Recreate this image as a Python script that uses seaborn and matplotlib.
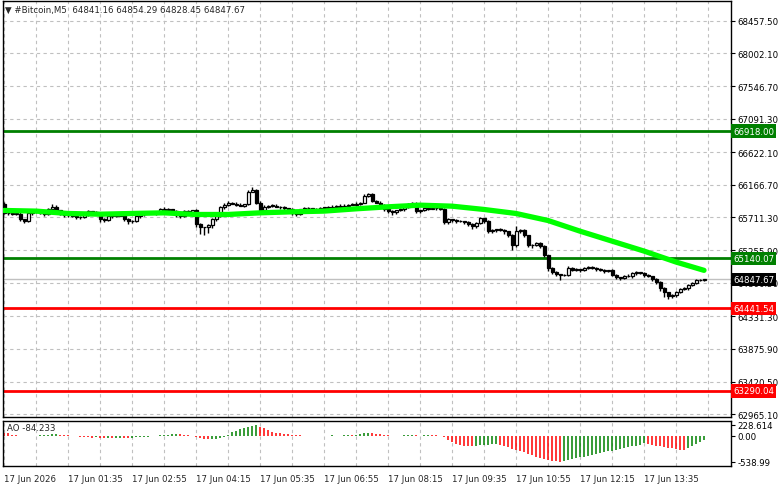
import matplotlib
matplotlib.use("Agg")
import matplotlib.pyplot as plt
import matplotlib.transforms as mtransforms
import numpy as np
import pandas as pd
import seaborn as sns

# --- data (#Bitcoin, M5) ---
first_open = 65906.0
closes = [
    65767, 65770, 65760, 65765, 65683, 65660, 65767, 65795, 65809, 65770, 65753, 65823, 65864, 65809, 65753, 65739,
    65742, 65725, 65711, 65715, 65753, 65795, 65790, 65753, 65683, 65669, 65725, 65739, 65735, 65742, 65683, 65655,
    65660, 65725, 65753, 65767, 65770, 65781, 65767, 65823, 65820, 65826, 65795, 65739, 65725, 65795, 65790, 65809,
    65614, 65572, 65575, 65600, 65683, 65725, 65851, 65892, 65920, 65906, 65892, 65878, 65895, 66073, 66101, 65920,
    65809, 65864, 65878, 65875, 65864, 65851, 65837, 65823, 65767, 65753, 65823, 65837, 65840, 65823, 65826, 65837,
    65851, 65848, 65864, 65878, 65864, 65878, 65892, 65889, 65906, 65920, 66018, 66032, 65948, 65920, 65892, 65823,
    65795, 65781, 65809, 65823, 65864, 65906, 65903, 65795, 65809, 65837, 65834, 65840, 65837, 65834, 65641, 65683,
    65669, 65655, 65658, 65641, 65614, 65586, 65628, 65697, 65655, 65516, 65530, 65544, 65530, 65516, 65461, 65321,
    65516, 65530, 65461, 65321, 65325, 65349, 65307, 65182, 65001, 64945, 64918, 64904, 64907, 65001, 64973, 64987,
    64973, 65001, 65015, 65012, 64987, 64973, 64959, 64973, 64904, 64876, 64862, 64890, 64887, 64931, 64945, 64931,
    64904, 64890, 64848, 64806, 64722, 64666, 64611, 64625, 64666, 64708, 64722, 64764, 64792, 64834, 64841.16, 64847.67,
]
upper_wick = [
    20, 10, 15, 10, 20, 10, 15, 15, 10, 20, 10, 25, 30, 15, 10, 15,
    10, 15, 10, 20, 15, 20, 10, 15, 10, 15, 20, 10, 15, 30, 10, 15,
    10, 20, 15, 10, 25, 15, 10, 20, 30, 15, 10, 15, 10, 20, 15, 10,
    15, 20, 10, 15, 20, 25, 15, 20, 15, 10, 20, 15, 10, 15, 40, 10,
    15, 20, 10, 15, 20, 10, 15, 10, 20, 15, 10, 25, 15, 10, 20, 15,
    10, 15, 20, 10, 15, 20, 10, 15, 25, 10, 20, 25, 15, 10, 15, 10,
    15, 20, 10, 15, 20, 10, 15, 20, 10, 15, 25, 10, 15, 20, 10, 15,
    10, 20, 15, 10, 15, 20, 25, 15, 10, 20, 15, 10, 15, 20, 10, 15,
    70, 15, 20, 10, 15, 20, 25, 15, 10, 15, 20, 10, 15, 30, 20, 15,
    10, 20, 15, 25, 10, 15, 20, 10, 15, 20, 10, 15, 25, 20, 15, 10,
    15, 20, 10, 15, 20, 15, 10, 20, 15, 25, 20, 15, 20, 15, 10, 6.62,
]
lower_wick = [
    10, 15, 10, 15, 20, 30, 10, 15, 20, 10, 15, 10, 15, 20, 10, 15,
    20, 10, 15, 25, 10, 15, 20, 10, 30, 15, 10, 15, 20, 10, 25, 40,
    15, 10, 20, 15, 10, 15, 20, 10, 15, 20, 10, 25, 15, 10, 20, 15,
    40, 90, 110, 80, 30, 15, 10, 15, 20, 10, 15, 10, 20, 15, 10, 20,
    15, 10, 20, 15, 10, 15, 20, 10, 25, 15, 10, 20, 15, 10, 15, 20,
    15, 10, 20, 15, 10, 20, 15, 10, 15, 20, 10, 15, 20, 10, 15, 25,
    20, 30, 15, 10, 20, 15, 10, 15, 20, 10, 15, 10, 20, 15, 25, 20,
    15, 20, 10, 25, 20, 30, 15, 10, 20, 25, 15, 20, 10, 30, 20, 70,
    20, 15, 25, 20, 30, 15, 20, 25, 40, 30, 20, 60, 15, 20, 15, 10,
    20, 15, 10, 20, 25, 15, 20, 10, 15, 20, 25, 15, 10, 15, 20, 15,
    20, 15, 25, 30, 40, 60, 45, 30, 20, 15, 10, 20, 15, 10, 15, 12.71,
]
ma_bars = [0, 8, 16, 24, 32, 40, 48, 56, 64, 72, 80, 88, 96, 104, 112, 120, 128, 136, 144, 152, 160, 168, 175]
ma_values = [65809, 65800, 65767, 65757, 65767, 65776, 65753, 65753, 65776, 65790, 65800, 65832,
             65860, 65883, 65869, 65823, 65767, 65669, 65520, 65381, 65242, 65089, 64973]
ao_values = [
    70, 60, 20, 10, 5, -5, -10, -5, 0, 10, 15, 25, 35, 40, 30, 20,
    10, 0, -10, -15, -25, -30, -35, -30, -35, -40, -38, -42, -40, -35, -38, -40,
    -35, -30, -28, -25, -15, -5, 5, 10, 20, 30, 35, 40, 35, 30, 20, 0,
    -20, -40, -60, -70, -65, -55, -40, -20, 30, 80, 110, 135, 155, 180, 205, 228.614,
    195, 160, 120, 90, 70, 55, 45, 35, 25, 15, 10, 5, 0, -5, -10, -5,
    0, 5, 10, 5, 0, 10, 20, 15, 25, 40, 55, 65, 60, 50, 40, 25,
    15, 5, 0, 5, 10, 15, 20, 10, 5, 10, 15, 12, 10, 5, -20, -80,
    -130, -160, -180, -200, -210, -215, -205, -195, -185, -180, -175, -170, -190, -210, -235, -265,
    -290, -310, -340, -370, -400, -430, -455, -480, -500, -515, -528, -538.99, -520, -500, -482, -463,
    -445, -428, -410, -392, -375, -357, -340, -322, -305, -288, -270, -252, -235, -218, -200, -180,
    -150, -160, -180, -200, -215, -230, -245, -260, -270, -285, -290, -250, -205, -160, -120, -84.233,
]
price_ticks = [68457.50, 68002.10, 67546.70, 67091.30, 66622.10, 66166.70, 65711.30,
               65255.90, 64800.50, 64331.30, 63875.90, 63420.50, 62965.10]
ao_ticks = [228.614, 0.0, -538.99]
ao_tick_labels = ["228.614", "0.00", "-538.99"]
time_labels = ["17 Jun 2026", "17 Jun 01:35", "17 Jun 02:55", "17 Jun 04:15", "17 Jun 05:35",
               "17 Jun 06:55", "17 Jun 08:15", "17 Jun 09:35", "17 Jun 10:55", "17 Jun 12:15",
               "17 Jun 13:35"]
resistance_levels = [66918.00, 65140.07]
support_levels = [64441.54, 63290.04]
last_price = 64847.67
header = "\u25bc #Bitcoin,M5  64841.16 64854.29 64828.45 64847.67"
ao_label = "AO -84.233"

# --- build the candle table ---
df = pd.DataFrame({"close": closes})
df["open"] = [first_open] + closes[:-1]
df["high"] = df[["open", "close"]].max(axis=1) + np.array(upper_wick)
df["low"] = df[["open", "close"]].min(axis=1) - np.array(lower_wick)
df["bar"] = np.arange(len(df))
bull = df["close"] >= df["open"]

sns.set_style("white")
plt.rcParams["font.family"] = ["DejaVu Sans"]

W, H = 781, 489
fig = plt.figure(figsize=(W / 100, H / 100), dpi=100)


def rect(x0, y0, x1, y1):
    return [x0 / W, 1 - y1 / H, (x1 - x0) / W, (y1 - y0) / H]


ax = fig.add_axes(rect(3, 2, 731, 418))
ax2 = fig.add_axes(rect(3, 422, 731, 467))
grid_kw = dict(color="#c0c0c0", linestyle=(0, (3, 3)), linewidth=0.8)
fs = 6.2

# main price panel
ax.vlines(df["bar"], df["low"], df["high"], color="black", linewidth=1, zorder=3)
body = (df["close"] - df["open"]).abs().clip(lower=8)
ax.bar(df["bar"], body, bottom=df[["open", "close"]].min(axis=1), width=0.75,
       color=np.where(bull, "white", "black"), edgecolor="black", linewidth=0.9, zorder=4)
sns.lineplot(x=ma_bars, y=ma_values, ax=ax, color="#00ff00", linewidth=3.8, zorder=5)

for v in resistance_levels:
    ax.axhline(v, color="#008000", linewidth=2, zorder=2)
for v in support_levels:
    ax.axhline(v, color="#ff0000", linewidth=2, zorder=2)
ax.axhline(last_price, color="#c0c0c0", linewidth=1, zorder=2)

ax.set_xlim(-0.25, 181.75)
ax.set_ylim(62925, 68734)
ax.yaxis.tick_right()
ax.set_yticks(price_ticks)
ax.set_yticklabels([f"{v:.2f}" for v in price_ticks])
ax.tick_params(axis="y", direction="out", length=3, width=0.8, pad=1.5, labelsize=fs, colors="black")
ax.set_xticks(range(0, 182, 8))
ax.tick_params(axis="x", length=0, labelbottom=False)
ax.grid(True, **grid_kw)
ax.set_axisbelow(True)

trans = mtransforms.blended_transform_factory(ax.transAxes, ax.transData)
for v, c in [(resistance_levels[0], "#008000"), (resistance_levels[1], "#008000"),
             (support_levels[0], "#ff0000"), (support_levels[1], "#ff0000"), (last_price, "black")]:
    ax.text(1.003, v, f"{v:.2f}", transform=trans, ha="left", va="center", color="white",
            fontsize=fs, zorder=10, clip_on=False,
            bbox=dict(boxstyle="square,pad=0.25", fc=c, ec="none"))

fig.text(5 / W, 1 - 10 / H, header, fontsize=fs, va="center", ha="left")

# AO panel
ao = np.array(ao_values)
ao_up = np.r_[False, ao[1:] > ao[:-1]]
ax2.vlines(np.arange(len(ao)), 0, ao, colors=np.where(ao_up, "#008000", "#ff0000"), linewidth=1.1)
ax2.set_xlim(-0.25, 181.75)
ax2.set_ylim(-625, 311)
ax2.yaxis.tick_right()
ax2.set_yticks(ao_ticks)
ax2.set_yticklabels(ao_tick_labels)
ax2.tick_params(axis="y", direction="out", length=3, width=0.8, pad=1.5, labelsize=fs, colors="black")
ax2.set_xticks(range(0, 161, 16))
ax2.set_xticklabels(time_labels)
ax2.set_xticks(range(8, 182, 16), minor=True)
ax2.tick_params(axis="x", which="major", direction="out", length=4, width=0.8, pad=2, labelsize=fs)
ax2.tick_params(axis="x", which="minor", length=0)
for lab in ax2.get_xticklabels():
    lab.set_ha("left")
ax2.grid(True, axis="x", which="both", **grid_kw)
ax2.set_axisbelow(True)
ax2.text(0.006, 0.86, ao_label, transform=ax2.transAxes, fontsize=fs, va="center", ha="left")

for a in (ax, ax2):
    for s in a.spines.values():
        s.set_color("black")
        s.set_linewidth(1)

fig.savefig("out.png", dpi=100)
